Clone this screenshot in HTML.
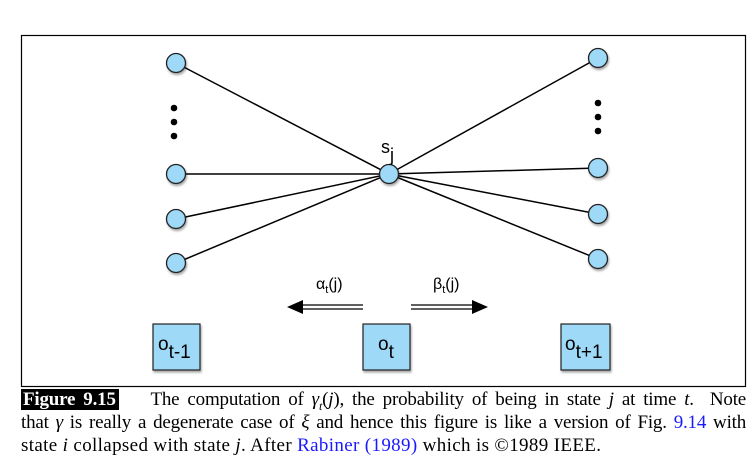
<!DOCTYPE html>
<html><head><meta charset="utf-8"><style>
body{margin:0;background:#fff;width:756px;height:467px;overflow:hidden;position:relative;font-family:"Liberation Serif",serif}
svg{position:absolute;left:0;top:0}
.cap{position:absolute;left:21px;width:725px;font-size:19px;line-height:22.5px;color:#000;white-space:nowrap;letter-spacing:-0.2px}
.j{text-align:justify;text-align-last:justify}
.fig{background:#000;color:#fff;font-weight:bold;padding:0 3px 0 2px}
a{color:#1a1aff;text-decoration:none}
</style></head><body>
<svg width="756" height="467">
<defs>
<filter id="sh" x="-30%" y="-30%" width="160%" height="160%"><feDropShadow dx="1" dy="2" stdDeviation="1" flood-color="#000" flood-opacity="0.35"/></filter>
</defs>
<rect x="21.5" y="35.5" width="724" height="351" fill="none" stroke="#000" stroke-width="1.2"/>
<g stroke="#000" stroke-width="1.5">
<line x1="176" y1="63" x2="389" y2="174"/>
<line x1="176" y1="174" x2="389" y2="174"/>
<line x1="176" y1="219" x2="389" y2="174"/>
<line x1="176" y1="263" x2="389" y2="174"/>
<line x1="598" y1="58" x2="389" y2="174"/>
<line x1="598" y1="168" x2="389" y2="174"/>
<line x1="598" y1="214" x2="389" y2="174"/>
<line x1="598" y1="259" x2="389" y2="174"/>
</g>
<g fill="#9ed9f7" stroke="#222" stroke-width="1.3" filter="url(#sh)">
<circle cx="176" cy="63" r="9.5"/>
<circle cx="176" cy="174" r="9.5"/>
<circle cx="176" cy="219" r="9.5"/>
<circle cx="176" cy="263" r="9.5"/>
<circle cx="389" cy="174" r="9.5"/>
<circle cx="598" cy="58" r="9.5"/>
<circle cx="598" cy="168" r="9.5"/>
<circle cx="598" cy="214" r="9.5"/>
<circle cx="598" cy="259" r="9.5"/>
</g>
<g fill="#000">
<circle cx="174" cy="108" r="3.3"/><circle cx="174" cy="122" r="3.3"/><circle cx="174" cy="136" r="3.3"/>
<circle cx="598" cy="103" r="3.3"/><circle cx="598" cy="117" r="3.3"/><circle cx="598" cy="131" r="3.3"/>
</g>
<g font-family="Liberation Sans, sans-serif" fill="#000">
<text x="381" y="153" font-size="18">s<tspan font-size="18" dy="8">j</tspan></text>
<text x="316" y="289" font-size="16">α<tspan font-size="11" dy="4">t</tspan><tspan dy="-4">(j)</tspan></text>
<text x="433" y="289" font-size="16">β<tspan font-size="11" dy="4">t</tspan><tspan dy="-4">(j)</tspan></text>
</g>
<g stroke="#000" stroke-width="1.3">
<line x1="300" y1="305" x2="363" y2="305"/><line x1="300" y1="309" x2="363" y2="309"/>
<polygon points="287,307 303,300 303,314" fill="#000" stroke="none"/>
</g>
<g stroke="#000" stroke-width="1.3">
<line x1="411" y1="305" x2="474" y2="305"/><line x1="411" y1="309" x2="474" y2="309"/>
<polygon points="488,307 472,300 472,314" fill="#000" stroke="none"/>
</g>
<g fill="#9ed9f7" stroke="#222" stroke-width="1.2" filter="url(#sh)">
<rect x="153" y="324" width="47" height="46"/>
<rect x="363" y="324" width="47" height="46"/>
<rect x="561" y="324" width="49" height="46"/>
</g>
<g font-family="Liberation Sans, sans-serif" fill="#000" font-size="19">
<text x="158" y="350">o<tspan font-size="19" dy="8">t-1</tspan></text>
<text x="378" y="350">o<tspan font-size="19" dy="8">t</tspan></text>
<text x="565" y="350">o<tspan font-size="19" dy="8">t+1</tspan></text>
</g>
</svg>
<div class="cap j" style="top:389px"><span class="fig">Figure 9.15</span>&nbsp;&nbsp;&nbsp; The computation of <i>γ<sub style="font-size:12px">t</sub></i>(<i>j</i>), the probability of being in state <i>j</i> at time <i>t</i>.&nbsp; Note</div>
<div class="cap j" style="top:412px">that <i>γ</i> is really a degenerate case of <i>ξ</i> and hence this figure is like a version of Fig. <a>9.14</a> with</div>
<div class="cap" style="top:435px;letter-spacing:0.35px">state <i>i</i> collapsed with state <i>j</i>. After <a>Rabiner (1989)</a> which is ©1989 IEEE.</div>
</body></html>
